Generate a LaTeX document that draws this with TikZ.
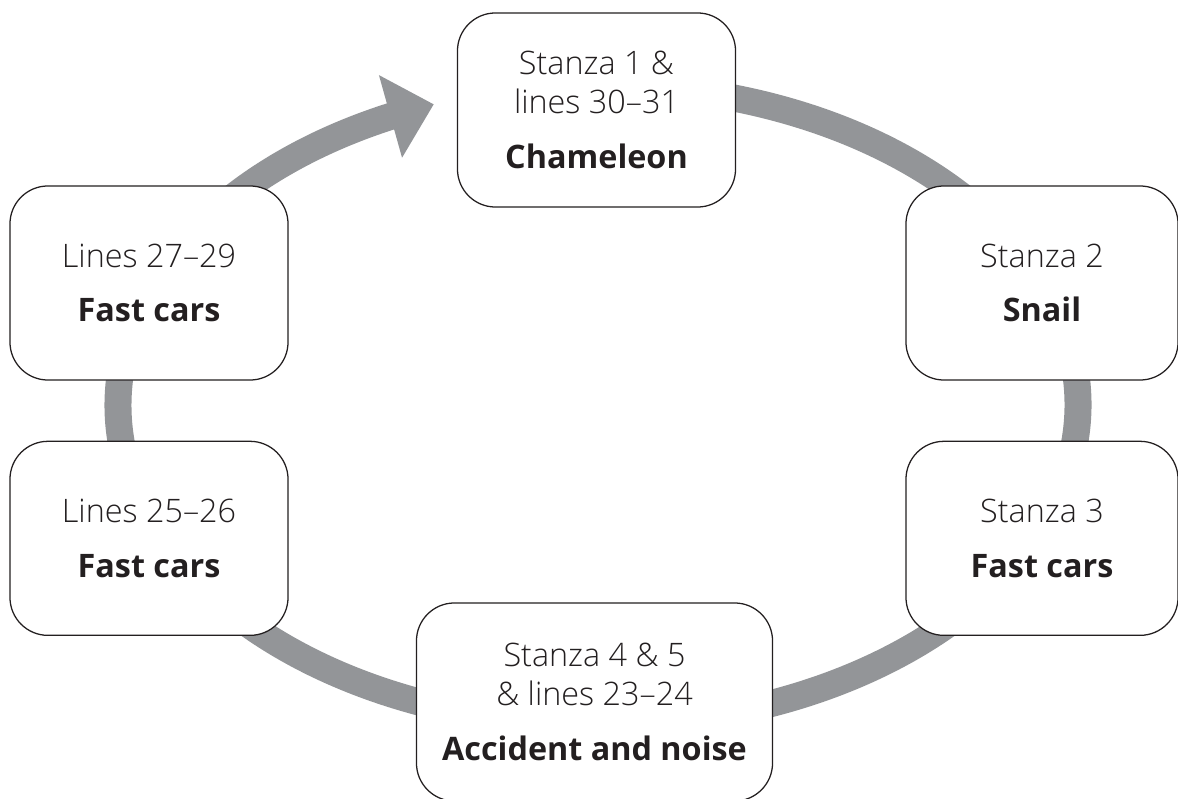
\documentclass[tikz,border=0pt]{standalone}
\usepackage{fontspec}
\setmainfont{Open Sans}
\IfFontExistsTF{Open Sans Light}
  {\newfontfamily\lightfont{Open Sans Light}}
  {\newfontfamily\lightfont{Open Sans}}
\usepackage{tikz}
\usetikzlibrary{positioning}
\usetikzlibrary{arrows.meta,
                bending}
\definecolor{ringgray}{RGB}{147,149,152}
\definecolor{inkblack}{RGB}{35,31,32}
\tikzset{
    stanzabox/.style={
           rectangle,
           rounded corners=0.95cm,
           draw=inkblack, line width=0.9pt,
           fill=white,
           text=inkblack,
           minimum width=6.95cm,
           minimum height=4.85cm,
           inner sep=2pt,
           align=center,
           font=\lightfont\fontsize{23pt}{27.7pt}\selectfont,
           },
    ring/.style={
           draw=ringgray,
           line width=0.675cm,
           -{Triangle[length=1.125cm, width=2.075cm, flex]},
           },
}
\newcommand{\theme}[1]{{\rmfamily\bfseries #1}}

\begin{document}
\begin{tikzpicture}[x=0.025cm, y=0.025cm]
 \useasboundingbox (0,0) rectangle (1178,798);

 % the cycle behind the boxes
 \coordinate (ringcentre) at (598,393);
 \draw[ring] (ringcentre) ++(85:480 and 320)
   arc[start angle=85, end angle=-250, x radius=480, y radius=320];

 \node[stanzabox] (cham) at (596.5,688)
 {Stanza 1 \&\\
  lines 30–31\\[11pt]
  \theme{Chameleon}};

 \node[stanzabox, minimum width=6.8cm] (snail) at (1042,515)
 {Stanza 2\\[11pt]
  \theme{Snail}};

 \node[stanzabox, minimum width=6.8cm,
  below=1.5cm of snail] (stanza3)
 {Stanza 3\\[11pt]
  \theme{Fast cars}};

 \node[stanzabox, minimum width=8.9cm, minimum height=4.95cm] (accident) at (594.5,96)
 {Stanza 4 \& 5\\
  \& lines 23–24\\[11pt]
  \theme{Accident and noise}};

 \node[stanzabox] (lines27) at (149,515)
 {Lines 27–29\\[11pt]
  \theme{Fast cars}};

 \node[stanzabox,
  below=1.5cm of lines27] (lines25)
 {Lines 25–26\\[11pt]
  \theme{Fast cars}};

\end{tikzpicture}
\end{document}
